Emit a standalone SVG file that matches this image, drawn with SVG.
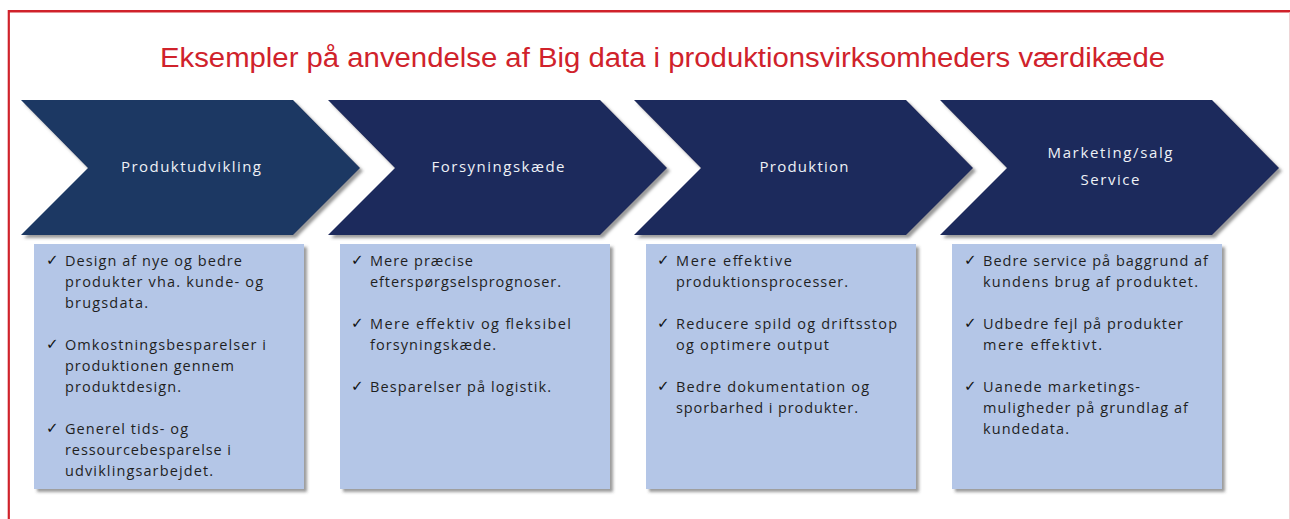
<svg xmlns="http://www.w3.org/2000/svg" width="1290" height="519" viewBox="0 0 1290 519">
  <defs>
    <filter id="shadow" x="-5%" y="-5%" width="115%" height="120%">
      <feDropShadow dx="3" dy="3" stdDeviation="1.5" flood-color="#4a4a4a" flood-opacity="0.55"/>
    </filter>
    <style>
      .title { font-family: "Liberation Sans", Arial, sans-serif; font-size: 27px; fill: #d0222b; }
      .chev { filter: url(#shadow); }
      .chev1 { fill: #1c3763; }
      .chev2 { fill: #1e295c; }
      .label { font-family: "Open Sans", "Liberation Sans", sans-serif; font-size: 15px; fill: #eef1f6; text-anchor: middle; }
      .box { fill: #b4c6e7; filter: url(#shadow); }
      .item { font-family: "Open Sans", "Liberation Sans", sans-serif; font-size: 14.5px; fill: #1f1f1f; }
      .tick { font-family: "DejaVu Sans", sans-serif; font-size: 15px; fill: #111111; }
    </style>
  </defs>

  <rect width="1290" height="519" fill="#ffffff"/>

  <!-- frame -->
  <line x1="8.8" y1="11.3" x2="1290" y2="11.3" stroke="#d0222b" stroke-width="2.5"/>
  <line x1="8.8" y1="10" x2="8.8" y2="519" stroke="#d0222b" stroke-width="2.2"/>
  <line x1="1289.5" y1="12.5" x2="1289.5" y2="519" stroke="#efd3d5" stroke-width="1"/>

  <text class="title" x="160" y="67" textLength="1005" lengthAdjust="spacingAndGlyphs">Eksempler på anvendelse af Big data i produktionsvirksomheders værdikæde</text>

  <!-- stage 1 -->
  <g id="produktudvikling">
    <polygon class="chev chev1" points="21,100 293,100 360,168 293,235 21,235 88,168"/>
    <text class="label" x="191" y="172" textLength="140">Produktudvikling</text>
  </g>
  <g id="produktudvikling-punkter">
    <rect class="box" x="34" y="244" width="270" height="245"/>
    <text class="tick" x="46" y="265">✓</text>
    <text class="item" x="65" y="266" textLength="177">Design af nye og bedre</text>
    <text class="item" x="65" y="287" textLength="198">produkter vha. kunde- og</text>
    <text class="item" x="65" y="308" textLength="83">brugsdata.</text>
    <text class="tick" x="46" y="349">✓</text>
    <text class="item" x="65" y="350" textLength="201">Omkostningsbesparelser i</text>
    <text class="item" x="65" y="371" textLength="169">produktionen gennem</text>
    <text class="item" x="65" y="392" textLength="116">produktdesign.</text>
    <text class="tick" x="46" y="433">✓</text>
    <text class="item" x="65" y="434" textLength="123">Generel tids- og</text>
    <text class="item" x="65" y="455" textLength="166">ressourcebesparelse i</text>
    <text class="item" x="65" y="476" textLength="148">udviklingsarbejdet.</text>
  </g>

  <!-- stage 2 -->
  <g id="forsyningskaede">
    <polygon class="chev chev2" points="328,100 600,100 667,168 600,235 328,235 395,168"/>
    <text class="label" x="498" y="172" textLength="133">Forsyningskæde</text>
  </g>
  <g id="forsyningskaede-punkter">
    <rect class="box" x="340" y="244" width="270" height="245"/>
    <text class="tick" x="351" y="265">✓</text>
    <text class="item" x="370" y="266" textLength="103">Mere præcise</text>
    <text class="item" x="370" y="287" textLength="191">efterspørgselsprognoser.</text>
    <text class="tick" x="351" y="328">✓</text>
    <text class="item" x="370" y="329" textLength="201">Mere effektiv og fleksibel</text>
    <text class="item" x="370" y="350" textLength="126">forsyningskæde.</text>
    <text class="tick" x="351" y="391">✓</text>
    <text class="item" x="370" y="392" textLength="181">Besparelser på logistik.</text>
  </g>

  <!-- stage 3 -->
  <g id="produktion">
    <polygon class="chev chev2" points="634,100 906,100 973,168 906,235 634,235 701,168"/>
    <text class="label" x="804" y="172" textLength="89">Produktion</text>
  </g>
  <g id="produktion-punkter">
    <rect class="box" x="646" y="244" width="270" height="245"/>
    <text class="tick" x="657" y="265">✓</text>
    <text class="item" x="676" y="266" textLength="116">Mere effektive</text>
    <text class="item" x="676" y="287" textLength="172">produktionsprocesser.</text>
    <text class="tick" x="657" y="328">✓</text>
    <text class="item" x="676" y="329" textLength="221">Reducere spild og driftsstop</text>
    <text class="item" x="676" y="350" textLength="153">og optimere output</text>
    <text class="tick" x="657" y="391">✓</text>
    <text class="item" x="676" y="392" textLength="193">Bedre dokumentation og</text>
    <text class="item" x="676" y="413" textLength="182">sporbarhed i produkter.</text>
  </g>

  <!-- stage 4 -->
  <g id="marketing-service">
    <polygon class="chev chev2" points="940,100 1212,100 1279,168 1212,235 940,235 1007,168"/>
    <text class="label" x="1110" y="158" textLength="125">Marketing/salg</text>
    <text class="label" x="1110" y="185" textLength="59">Service</text>
  </g>
  <g id="marketing-service-punkter">
    <rect class="box" x="952" y="244" width="270" height="245"/>
    <text class="tick" x="964" y="265">✓</text>
    <text class="item" x="983" y="266" textLength="225">Bedre service på baggrund af</text>
    <text class="item" x="983" y="287" textLength="215">kundens brug af produktet.</text>
    <text class="tick" x="964" y="328">✓</text>
    <text class="item" x="983" y="329" textLength="200">Udbedre fejl på produkter</text>
    <text class="item" x="983" y="350" textLength="119">mere effektivt.</text>
    <text class="tick" x="964" y="391">✓</text>
    <text class="item" x="983" y="392" textLength="157">Uanede marketings-</text>
    <text class="item" x="983" y="413" textLength="205">muligheder på grundlag af</text>
    <text class="item" x="983" y="434" textLength="86">kundedata.</text>
  </g>

  <!-- process flow runs through the chevron order; no separate connector lines are drawn -->
  <g id="connectors"/>
</svg>
